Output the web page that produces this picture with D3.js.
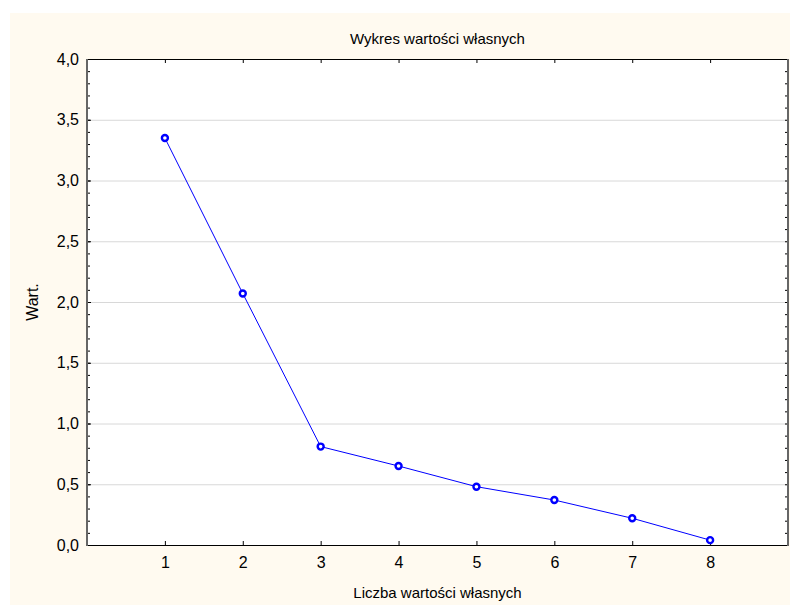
<!DOCTYPE html>
<html>
<head>
<meta charset="utf-8">
<script src="https://cdn.jsdelivr.net/npm/d3@7"></script>
<style>
  body { margin: 0; background: #fff; }
  text { font-family: "Liberation Sans", Arial, sans-serif; fill: #000; }
</style>
</head>
<body>
<div id="container"></div>
<script>
const numbers = [1, 2, 3, 4, 5, 6, 7, 8];
const eigenvalues = [3.35, 2.07, 0.81, 0.65, 0.48, 0.37, 0.22, 0.04];
const yTicks = [0, 0.5, 1, 1.5, 2, 2.5, 3, 3.5, 4];
const title = "Wykres wartości własnych";
const xTitle = "Liczba wartości własnych";
const yTitle = "Wart.";

const width = 790;
const height = 605;
const plot = { left: 87, right: 788, top: 59, bot: 545 };

const svg = d3.select("#container")
              .append("svg")
              .attr("width", width)
              .attr("height", height);

svg.append("rect")
   .attr("x", 10).attr("y", 13)
   .attr("width", width - 10).attr("height", height - 13)
   .attr("fill", "#fffaf0");

svg.append("rect")
   .attr("x", plot.left).attr("y", plot.top)
   .attr("width", plot.right - plot.left).attr("height", plot.bot - plot.top)
   .attr("fill", "#fff");

const xScale = d3.scaleLinear().domain([0, 9]).range([plot.left, plot.right]);
const yScale = d3.scaleLinear().domain([0, 4]).range([plot.bot, plot.top]);
const fmt = (d) => d3.format(".1f")(d).replace(".", ",");

// grid
svg.append("g")
   .selectAll("line")
   .data(yTicks.slice(1, -1))
   .enter()
   .append("line")
   .attr("x1", plot.left).attr("x2", plot.right)
   .attr("y1", (d) => yScale(d) + 0.5).attr("y2", (d) => yScale(d) + 0.5)
   .attr("stroke", "#d8d8d8");

// axes, ticks inward
const minor = d3.range(0, 41).map((d) => d / 10);
const leftAxis = d3.axisLeft(yScale).tickValues(yTicks).tickFormat(fmt).tickSize(-4).tickPadding(8);
svg.append("g")
   .attr("transform", "translate(" + plot.left + ",0)")
   .call(leftAxis)
   .call((g) => g.select(".domain").remove())
   .call((g) => g.selectAll("text").style("font-size", "16px").attr("font-family", null));
svg.append("g")
   .attr("transform", "translate(" + plot.left + ",0)")
   .call(d3.axisLeft(yScale).tickValues(minor).tickFormat("").tickSize(-3))
   .call((g) => g.select(".domain").remove());
svg.append("g")
   .attr("transform", "translate(" + plot.right + ",0)")
   .call(d3.axisRight(yScale).tickValues(minor).tickFormat("").tickSize(-3))
   .call((g) => g.select(".domain").remove());

svg.append("g")
   .attr("transform", "translate(0," + plot.bot + ")")
   .call(d3.axisBottom(xScale).tickValues(numbers).tickFormat(d3.format("d")).tickSize(-4).tickPadding(12))
   .call((g) => g.select(".domain").remove())
   .call((g) => g.selectAll("text").style("font-size", "16px").attr("font-family", null));
svg.append("g")
   .attr("transform", "translate(0," + plot.top + ")")
   .call(d3.axisTop(xScale).tickValues(numbers).tickFormat("").tickSize(-4))
   .call((g) => g.select(".domain").remove());

// frame
svg.append("line").attr("x1", plot.left).attr("x2", plot.right)
   .attr("y1", plot.top + 0.5).attr("y2", plot.top + 0.5).attr("stroke", "#000");
svg.append("line").attr("x1", plot.left).attr("x2", plot.right)
   .attr("y1", plot.bot + 0.5).attr("y2", plot.bot + 0.5).attr("stroke", "#000");
svg.append("line").attr("x1", plot.left).attr("x2", plot.left)
   .attr("y1", plot.top).attr("y2", plot.bot + 1).attr("stroke", "#666").attr("stroke-width", 2);
svg.append("line").attr("x1", plot.right).attr("x2", plot.right)
   .attr("y1", plot.top).attr("y2", plot.bot + 1).attr("stroke", "#666").attr("stroke-width", 2);

// series
const line = d3.line()
               .x((d, i) => xScale(numbers[i]))
               .y((d) => yScale(d));
svg.append("path")
   .datum(eigenvalues)
   .attr("d", line)
   .attr("fill", "none")
   .attr("stroke", "#0000ff")
   .attr("stroke-width", 1);
svg.append("g")
   .selectAll("circle")
   .data(eigenvalues)
   .enter()
   .append("circle")
   .attr("cx", (d, i) => xScale(numbers[i]))
   .attr("cy", (d) => yScale(d))
   .attr("r", 3)
   .attr("fill", "#fff")
   .attr("stroke", "#0000ff")
   .attr("stroke-width", 2.4);

// titles
svg.append("text")
   .text(title)
   .attr("x", (plot.left + plot.right) / 2).attr("y", 44)
   .attr("text-anchor", "middle")
   .style("font-size", "15px");
svg.append("text")
   .text(xTitle)
   .attr("x", (plot.left + plot.right) / 2).attr("y", 598)
   .attr("text-anchor", "middle")
   .style("font-size", "15px");
svg.append("text")
   .text(yTitle)
   .attr("transform", "translate(38," + (plot.top + plot.bot) / 2 + ")rotate(-90)")
   .attr("text-anchor", "middle")
   .style("font-size", "16px");
</script>
</body>
</html>
